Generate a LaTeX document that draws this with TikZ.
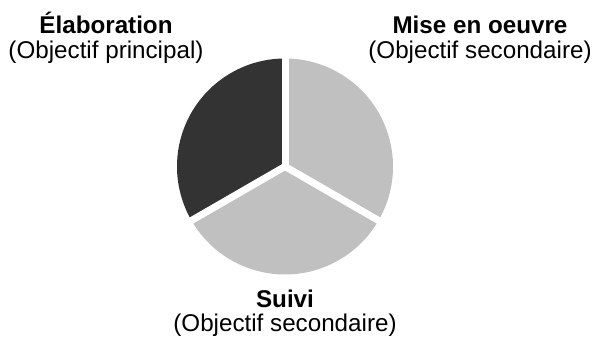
\documentclass[tikz,border=0pt]{standalone}
\usepackage{fontspec}
\setmainfont{Liberation Sans}
\definecolor{darkslice}{HTML}{333333}
\definecolor{lightslice}{HTML}{C0C0C0}
\begin{document}
\begin{tikzpicture}[x=1pt,y=1pt,
  lbl/.style={inner sep=0pt, anchor=base, font=\fontsize{24.2}{26}\selectfont},
  ttl/.style={lbl, font=\fontsize{24.2}{26}\selectfont\bfseries},
  gap/.style={white, line width=7pt}]
\useasboundingbox (0,0) rectangle (592,339);
\coordinate (c) at (285,172.5);
\fill[darkslice] (c) -- ++(90:108) arc[start angle=90, end angle=210, radius=108] -- cycle;
\fill[lightslice] (c) -- ++(210:108) arc[start angle=210, end angle=330, radius=108] -- cycle;
\fill[lightslice] (c) -- ++(-30:108) arc[start angle=-30, end angle=90, radius=108] -- cycle;
\draw[gap] (c) -- ++(90:112);
\draw[gap] (c) -- ++(210:112);
\draw[gap] (c) -- ++(-30:112);
\node[ttl] (t1) at (106,305) {Élaboration};
\node[lbl] (s1) at (106,280) {(Objectif principal)};
\node[ttl] (t2) at (480,305) {Mise en oeuvre};
\node[lbl] (s2) at (480,280) {(Objectif secondaire)};
\node[ttl] (t3) at (285,31) {Suivi};
\node[lbl] (s3) at (285,7) {(Objectif secondaire)};
\end{tikzpicture}
\end{document}
